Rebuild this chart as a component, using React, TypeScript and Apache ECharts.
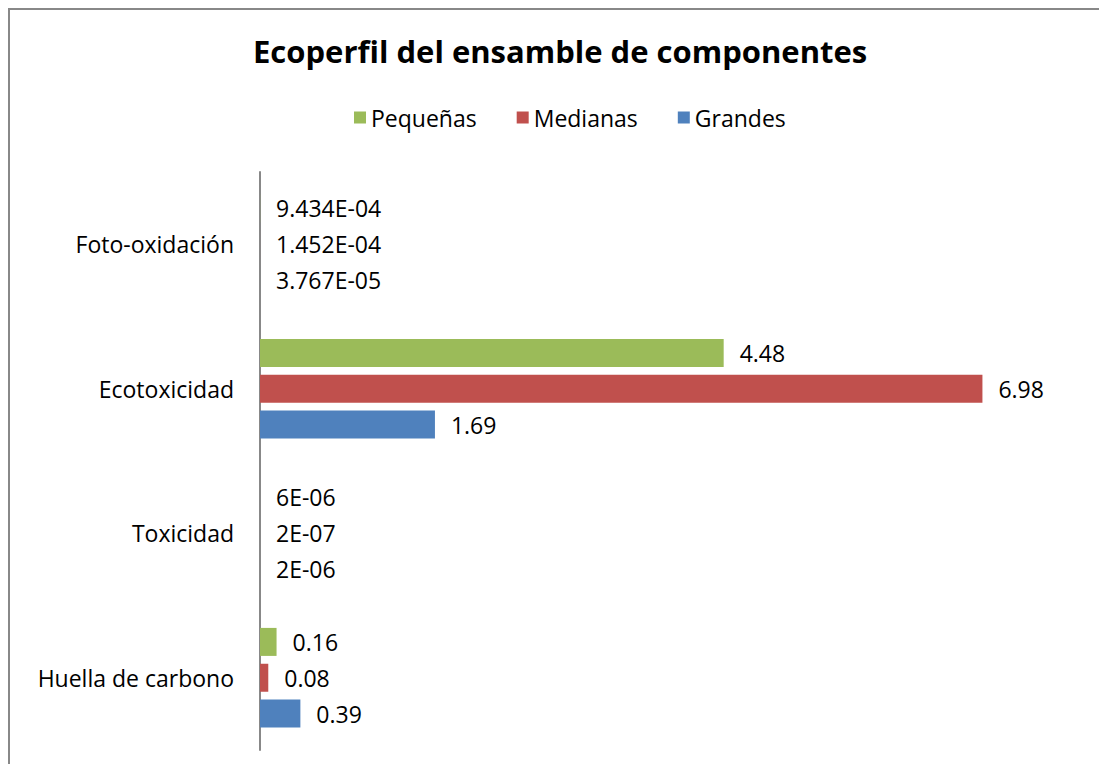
import React, { useEffect, useRef } from "react";
import * as echarts from "echarts";

const categories = ["Huella de carbono", "Toxicidad", "Ecotoxicidad", "Foto-oxidación"];
const seriesNames = ["Pequeñas", "Medianas", "Grandes"];
const pequenas = [0.16, 0.000006, 4.48, 0.0009434];
const medianas = [0.08, 0.0000002, 6.98, 0.0001452];
const grandes = [0.39, 0.000002, 1.69, 0.00003767];
const pequenasLabels = ["0.16", "6E-06", "4.48", "9.434E-04"];
const medianasLabels = ["0.08", "2E-07", "6.98", "1.452E-04"];
const grandesLabels = ["0.39", "2E-06", "1.69", "3.767E-05"];
const colors = ["#9BBB59", "#C0504D", "#4F81BD"];

const FONT = "Open Sans";

export default function App() {
  const ref = useRef<HTMLDivElement>(null);
  useEffect(() => {
    if (!ref.current) return;
    const chart = echarts.init(ref.current, null, { renderer: "svg" });
    const values = [pequenas, medianas, grandes];
    const labels = [pequenasLabels, medianasLabels, grandesLabels];
    chart.setOption({
      animation: false,
      title: {
        text: "Ecoperfil del ensamble de componentes",
        left: 240,
        top: 22,
        textStyle: { fontFamily: FONT, fontSize: 31, fontWeight: "bold", color: "#000" },
      },
      legend: {
        data: seriesNames,
        top: 93,
        left: 341,
        icon: "rect",
        itemWidth: 12,
        itemHeight: 12,
        itemGap: 40,
        textStyle: { fontFamily: FONT, fontSize: 23, color: "#000" },
      },
      graphic: [
        {
          type: "line",
          shape: { x1: 1, y1: 0, x2: 1, y2: 800 },
          style: { stroke: "#888", lineWidth: 2 },
          silent: true,
        },
        {
          type: "line",
          shape: { x1: 0, y1: 1, x2: 1200, y2: 1 },
          style: { stroke: "#888", lineWidth: 2 },
          silent: true,
        },
      ],
      grid: { left: 252, right: 11, top: 164, bottom: 14 },
      xAxis: {
        type: "value",
        min: 0,
        max: 8,
        show: false,
      },
      yAxis: {
        type: "category",
        data: categories,
        axisLine: { show: true, lineStyle: { color: "#888", width: 2 } },
        axisTick: { show: false },
        axisLabel: { fontFamily: FONT, fontSize: 23, color: "#000", margin: 26 },
        splitLine: { show: false },
      },
      series: [0, 1, 2].map((i) => ({
        name: seriesNames[i],
        type: "bar",
        data: values[i],
        barWidth: 28,
        barGap: "28%",
        itemStyle: { color: colors[i] },
        label: {
          show: true,
          position: "right",
          distance: 16,
          fontFamily: FONT,
          fontSize: 23,
          color: "#000",
          formatter: (p: any) => labels[i][p.dataIndex],
        },
      })),
    });
    return () => chart.dispose();
  }, []);
  return (
    <div
      style={{
        position: "fixed",
        left: 0,
        top: 0,
        width: 1107,
        height: 772,
        overflow: "hidden",
        background: "#fff",
      }}
    >
      <div
        ref={ref}
        style={{ position: "absolute", left: 8, top: 8, width: 1091, height: 756 }}
      />
    </div>
  );
}
